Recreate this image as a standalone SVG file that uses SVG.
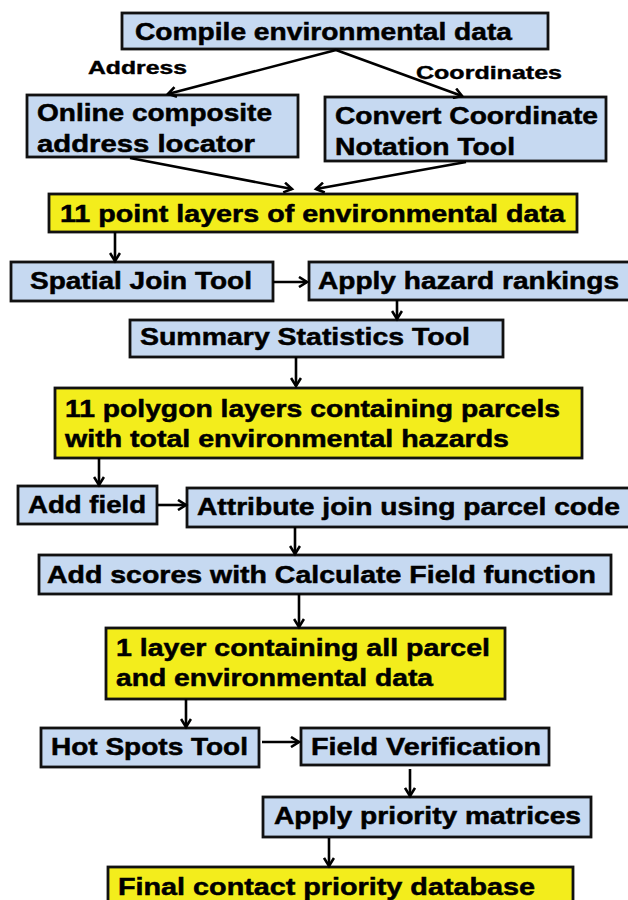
<svg xmlns="http://www.w3.org/2000/svg" width="628" height="900" viewBox="0 0 628 900">
<defs>
<marker id="ah" markerWidth="12" markerHeight="12" refX="9" refY="6" orient="auto" markerUnits="userSpaceOnUse">
<path d="M1,1 L9,6 L1,11" fill="none" stroke="#000" stroke-width="2.6"/>
</marker>
<style>
.b{fill:#C6D9F1;stroke:#111;stroke-width:2.8}
.y{fill:#F3ED1C;stroke:#111;stroke-width:2.8}
.t{font-family:"Liberation Sans",Arial,sans-serif;font-weight:bold;font-size:24px;fill:#000;stroke:#000;stroke-width:0.5}
.s{font-family:"Liberation Sans",Arial,sans-serif;font-weight:bold;font-size:18px;fill:#000;stroke:#000;stroke-width:0.4}
.c{fill:none;stroke:#000;stroke-width:2.6;marker-end:url(#ah)}
</style>
</defs>
<rect width="628" height="900" fill="#fff"/>
<g id="n1"><rect class="b" x="122" y="13" width="426" height="36"/><text class="t" x="135" y="40" textLength="377" lengthAdjust="spacingAndGlyphs">Compile environmental data</text></g>
<g id="n2"><rect class="b" x="27" y="95" width="271" height="62"/><text class="t" x="37" y="121" textLength="235" lengthAdjust="spacingAndGlyphs">Online composite</text><text class="t" x="37" y="152" textLength="218" lengthAdjust="spacingAndGlyphs">address locator</text></g>
<g id="n3"><rect class="b" x="325" y="97" width="281" height="64"/><text class="t" x="335" y="124" textLength="263" lengthAdjust="spacingAndGlyphs">Convert Coordinate</text><text class="t" x="335" y="155" textLength="180" lengthAdjust="spacingAndGlyphs">Notation Tool</text></g>
<g id="n4"><rect class="y" x="49" y="194" width="528" height="38"/><text class="t" x="60" y="222" textLength="505" lengthAdjust="spacingAndGlyphs">11 point layers of environmental data</text></g>
<g id="n5"><rect class="b" x="11" y="262" width="262" height="39"/><text class="t" x="30" y="289" textLength="222" lengthAdjust="spacingAndGlyphs">Spatial Join Tool</text></g>
<g id="n6"><rect class="b" x="309" y="262" width="330" height="38"/><text class="t" x="318" y="289" textLength="301" lengthAdjust="spacingAndGlyphs">Apply hazard rankings</text></g>
<g id="n7"><rect class="b" x="130" y="320" width="373" height="37"/><text class="t" x="140" y="345" textLength="330" lengthAdjust="spacingAndGlyphs">Summary Statistics Tool</text></g>
<g id="n8"><rect class="y" x="55" y="388" width="527" height="70"/><text class="t" x="65" y="417" textLength="495" lengthAdjust="spacingAndGlyphs">11 polygon layers containing parcels</text><text class="t" x="65" y="447" textLength="444" lengthAdjust="spacingAndGlyphs">with total environmental hazards</text></g>
<g id="n9"><rect class="b" x="18" y="486" width="139" height="38"/><text class="t" x="28" y="513" textLength="118" lengthAdjust="spacingAndGlyphs">Add field</text></g>
<g id="n10"><rect class="b" x="187" y="488" width="450" height="39"/><text class="t" x="197" y="515" textLength="423" lengthAdjust="spacingAndGlyphs">Attribute join using parcel code</text></g>
<g id="n11"><rect class="b" x="39" y="555" width="572" height="39"/><text class="t" x="47" y="583" textLength="549" lengthAdjust="spacingAndGlyphs">Add scores with Calculate Field function</text></g>
<g id="n12"><rect class="y" x="106" y="628" width="399" height="71"/><text class="t" x="116" y="656" textLength="374" lengthAdjust="spacingAndGlyphs">1 layer containing all parcel</text><text class="t" x="116" y="686" textLength="317" lengthAdjust="spacingAndGlyphs">and environmental data</text></g>
<g id="n13"><rect class="b" x="41" y="728" width="218" height="39"/><text class="t" x="51" y="755" textLength="197" lengthAdjust="spacingAndGlyphs">Hot Spots Tool</text></g>
<g id="n14"><rect class="b" x="301" y="728" width="248" height="37"/><text class="t" x="311" y="755" textLength="230" lengthAdjust="spacingAndGlyphs">Field Verification</text></g>
<g id="n15"><rect class="b" x="263" y="797" width="328" height="40"/><text class="t" x="274" y="824" textLength="307" lengthAdjust="spacingAndGlyphs">Apply priority matrices</text></g>
<g id="n16"><rect class="y" x="108" y="867" width="465" height="40"/><text class="t" x="118" y="895" textLength="417" lengthAdjust="spacingAndGlyphs">Final contact priority database</text></g>
<g id="labels">
<text class="s" x="88" y="74" textLength="99" lengthAdjust="spacingAndGlyphs">Address</text>
<text class="s" x="416" y="79" textLength="146" lengthAdjust="spacingAndGlyphs">Coordinates</text>
</g>
<g id="connectors">
<line class="c" x1="336" y1="50" x2="168" y2="94"/>
<line class="c" x1="336" y1="50" x2="462" y2="96"/>
<line class="c" x1="130" y1="158" x2="292" y2="189"/>
<line class="c" x1="466" y1="162" x2="316" y2="189"/>
<line class="c" x1="115" y1="232" x2="115" y2="261"/>
<line class="c" x1="273" y1="282" x2="307" y2="282"/>
<line class="c" x1="397" y1="300" x2="397" y2="319"/>
<line class="c" x1="296" y1="357" x2="296" y2="386"/>
<line class="c" x1="99" y1="458" x2="99" y2="485"/>
<line class="c" x1="158" y1="505" x2="186" y2="505"/>
<line class="c" x1="295" y1="527" x2="295" y2="554"/>
<line class="c" x1="299" y1="594" x2="299" y2="627"/>
<line class="c" x1="186" y1="699" x2="186" y2="727"/>
<line class="c" x1="262" y1="742" x2="299" y2="742"/>
<line class="c" x1="410" y1="769" x2="410" y2="796"/>
<line class="c" x1="329" y1="838" x2="329" y2="866"/>
</g>
</svg>
